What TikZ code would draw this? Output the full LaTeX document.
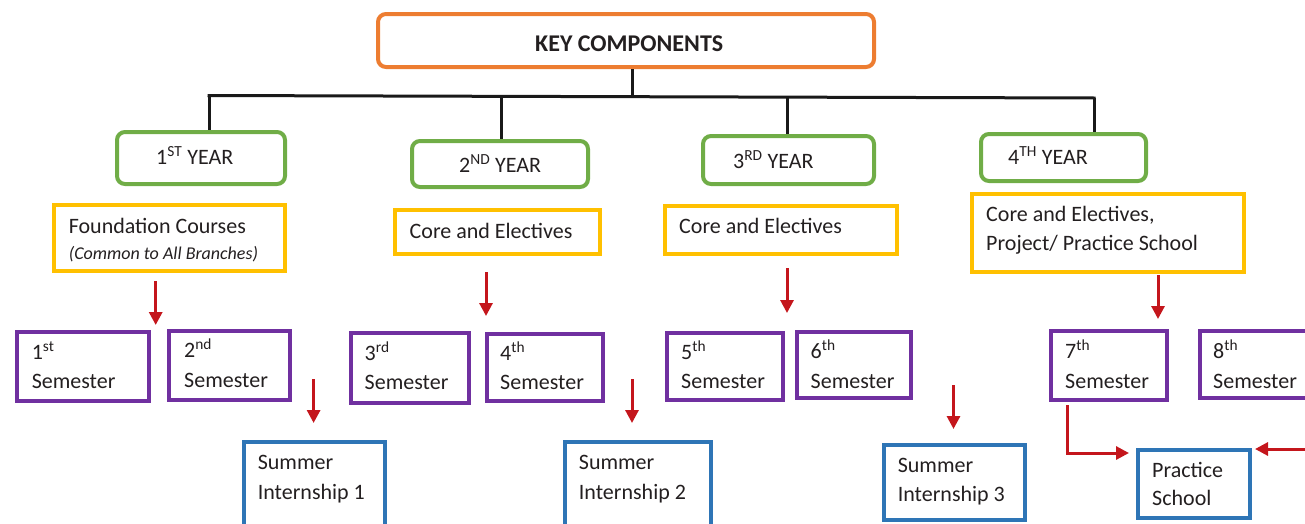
\documentclass[tikz,border=0pt]{standalone}
\usepackage{fontspec}
\setmainfont{Carlito}
\usetikzlibrary{arrows.meta,calc}
\definecolor{korange}{HTML}{ED7D31}
\definecolor{kgreen}{HTML}{70AD47}
\definecolor{kyellow}{HTML}{FFC000}
\definecolor{kpurple}{HTML}{7030A0}
\definecolor{kblue}{HTML}{2E75B6}
\definecolor{kred}{HTML}{C4161C}
\definecolor{ktext}{HTML}{231F20}
\begin{document}
\begin{tikzpicture}[x=1pt,y=-1pt,
 base/.style={draw, line width=4pt, inner sep=0pt, anchor=north west},
 keybox/.style={base, draw=korange, rounded corners=8pt},
 yearbox/.style={base, draw=kgreen, rounded corners=8pt},
 coursebox/.style={base, draw=kyellow},
 sembox/.style={base, draw=kpurple},
 sumbox/.style={base, draw=kblue},
 txt/.style={anchor=base west, inner sep=0pt, text=ktext, font=\fontsize{22}{26}\selectfont},
 boldtxt/.style={txt, font=\fontsize{24}{28}\selectfont\bfseries},
 smalltxt/.style={txt, font=\fontsize{18}{22}\selectfont\itshape},
 bus/.style={draw=black!90, line width=3pt},
 redarr/.style={draw=kred, line width=3pt, -{Triangle[length=13pt,width=13pt]}},
]
\useasboundingbox (0,0) rectangle (1305,523);
\clip (0,0) rectangle (1305,523);

% boxes
\node[keybox, minimum width=496pt, minimum height=53pt] (key) at (376,12) {};
\node[yearbox, minimum width=168pt, minimum height=52pt] (y1) at (115,130) {};
\node[yearbox, minimum width=176pt, minimum height=46pt] (y2) at (410,139) {};
\node[yearbox, minimum width=171pt, minimum height=48pt] (y3) at (701,134) {};
\node[yearbox, minimum width=165pt, minimum height=47pt] (y4) at (979,132) {};
\node[coursebox, minimum width=231pt, minimum height=66pt] (c1) at (52,203) {};
\node[coursebox, minimum width=205pt, minimum height=44pt] (c2) at (393,208) {};
\node[coursebox, minimum width=232pt, minimum height=48pt] (c3) at (663,204) {};
\node[coursebox, minimum width=272pt, minimum height=78pt] (c4) at (970,192) {};
\node[sembox, minimum width=132pt, minimum height=69pt] (s1) at (15,330) {};
\node[sembox, minimum width=121pt, minimum height=69pt] (s2) at (167,329) {};
\node[sembox, minimum width=118pt, minimum height=70pt] (s3) at (349,331) {};
\node[sembox, minimum width=116pt, minimum height=67pt] (s4) at (485,332) {};
\node[sembox, minimum width=116pt, minimum height=67pt] (s5) at (665,331) {};
\node[sembox, minimum width=114pt, minimum height=66pt] (s6) at (795,330) {};
\node[sembox, minimum width=116pt, minimum height=69pt] (s7) at (1049,329) {};
\node[sembox, minimum width=140pt, minimum height=67pt] (s8) at (1198,329) {};
\node[sumbox, minimum width=141pt, minimum height=120pt] (i1) at (242,440) {};
\node[sumbox, minimum width=146pt, minimum height=120pt] (i2) at (563,440) {};
\node[sumbox, minimum width=141pt, minimum height=75pt] (i3) at (882,443) {};
\node[sumbox, minimum width=112pt, minimum height=68pt] (ps) at (1136,448) {};

% texts
\node[boldtxt] (keyt) at (535,51) {KEY COMPONENTS};
\node[txt] (y1t) at (156,164) {1\textsuperscript{ST} YEAR};
\node[txt] (y2t) at (459,172) {2\textsuperscript{ND} YEAR};
\node[txt] (y3t) at (733,168) {3\textsuperscript{RD} YEAR};
\node[txt] (y4t) at (1008,164) {4\textsuperscript{TH} YEAR};
\node[txt] (c1a) at (68.6,233) {Foundation Courses};
\node[smalltxt] (c1b) at (68.6,259) {(Common to All Branches)};
\node[txt] (c2t) at (409.5,238) {Core and Electives};
\node[txt] (c3t) at (679,233) {Core and Electives};
\node[txt] (c4a) at (986,221) {Core and Electives,};
\node[txt] (c4b) at (986,250) {Project/ Practice School};
\node[txt] (s1a) at (31.6,359) {1\textsuperscript{st}};
\node[txt] (s1b) at (31.6,388) {Semester};
\node[txt] (s2a) at (184,357) {2\textsuperscript{nd}};
\node[txt] (s2b) at (184,387) {Semester};
\node[txt] (s3a) at (364.5,360) {3\textsuperscript{rd}};
\node[txt] (s3b) at (364.5,389) {Semester};
\node[txt] (s4a) at (500,360) {4\textsuperscript{th}};
\node[txt] (s4b) at (500,389) {Semester};
\node[txt] (s5a) at (681,359) {5\textsuperscript{th}};
\node[txt] (s5b) at (681,388) {Semester};
\node[txt] (s6a) at (810.5,358) {6\textsuperscript{th}};
\node[txt] (s6b) at (810.5,388) {Semester};
\node[txt] (s7a) at (1065,358) {7\textsuperscript{th}};
\node[txt] (s7b) at (1065,388) {Semester};
\node[txt] (s8a) at (1213,358) {8\textsuperscript{th}};
\node[txt] (s8b) at (1213,388) {Semester};
\node[txt] (i1a) at (257.6,469) {Summer};
\node[txt] (i1b) at (257.6,499) {Internship 1};
\node[txt] (i2a) at (578.7,469) {Summer};
\node[txt] (i2b) at (578.7,499) {Internship 2};
\node[txt] (i3a) at (897.6,472) {Summer};
\node[txt] (i3b) at (897.6,501) {Internship 3};
\node[txt] (psa) at (1152,477) {Practice};
\node[txt] (psb) at (1152,505) {School};

% tree connectors
\coordinate (kb) at (632,97);
\coordinate (b1) at (209,95.5);
\coordinate (b2) at (501,96.5);
\coordinate (b3) at (787,97.3);
\coordinate (b4) at (1094,98);
\draw[bus] (key.south -| kb) -- (kb);
\draw[bus] ($(b1)+(-1.5,0)$) -- ($(b4)+(1.5,0)$);
\draw[bus] (b1) -- (b1 |- y1.north);
\draw[bus] (b2) -- (b2 |- y2.north);
\draw[bus] (b3) -- (b3 |- y3.north);
\draw[bus] (b4) -- (b4 |- y4.north);

% red arrows
\coordinate (a1s) at (155.7,281); \coordinate (a1e) at (155.7,325);
\coordinate (a2s) at (486,272);   \coordinate (a2e) at (486,316);
\coordinate (a3s) at (787,268);   \coordinate (a3e) at (787,313);
\coordinate (a4s) at (1158,275);  \coordinate (a4e) at (1158,319);
\coordinate (a5s) at (313.6,379); \coordinate (a5e) at (313.6,423);
\coordinate (a6s) at (632,379);   \coordinate (a6e) at (632,423);
\coordinate (a7s) at (953.5,385); \coordinate (a7e) at (953.5,429);
\draw[redarr] (a1s) -- (a1e);
\draw[redarr] (a2s) -- (a2e);
\draw[redarr] (a3s) -- (a3e);
\draw[redarr] (a4s) -- (a4e);
\draw[redarr] (a5s) -- (a5e);
\draw[redarr] (a6s) -- (a6e);
\draw[redarr] (a7s) -- (a7e);
\coordinate (e7) at (1067,453);
\draw[redarr, shorten >=7pt] ($(s7.south -| e7)+(0,3)$) |- (ps.west |- e7);
\coordinate (rin) at (1320,449);
\draw[redarr, shorten >=3pt] (rin) -- (ps.east |- rin);
\end{tikzpicture}
\end{document}
